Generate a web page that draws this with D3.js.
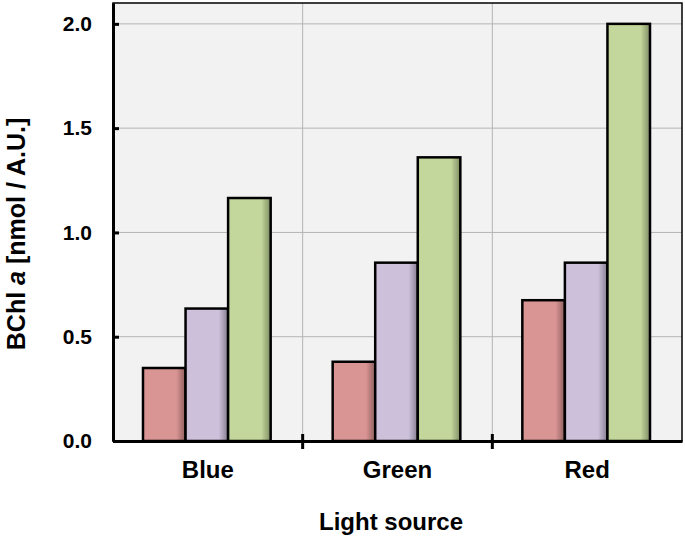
<!DOCTYPE html>
<html>
<head>
<meta charset="utf-8">
<script src="https://cdn.jsdelivr.net/npm/d3@7"></script>
<style>
body { margin: 0; background: #fff; }
text { font-family: Arial, "Liberation Sans", sans-serif; font-weight: bold; }
</style>
</head>
<body>
<div id="chart"></div>
<script>
var svgWidth = 685;
var svgHeight = 540;

var margin = { top: 3, right: 3, bottom: 99, left: 113 };
var chartWidth = svgWidth - margin.left - margin.right;
var chartHeight = svgHeight - margin.top - margin.bottom;

// data
var categories = ["Blue", "Green", "Red"];
var seriesNames = ["s1", "s2", "s3"];
var series1 = [0.35, 0.38, 0.675];
var series2 = [0.635, 0.855, 0.855];
var series3 = [1.165, 1.36, 2.0];
var yTicks = [0.0, 0.5, 1.0, 1.5, 2.0];
var colors = ["#d99594", "#ccc0da", "#c3d69b"];
var darks = ["#8f5f5e", "#857d90", "#7f8c63"];

var allSeries = [series1, series2, series3];

var svg = d3.select("#chart")
    .append("svg")
    .attr("width", svgWidth)
    .attr("height", svgHeight);

var defs = svg.append("defs");
colors.forEach(function(c, i) {
    var g = defs.append("linearGradient")
        .attr("id", "grad" + i)
        .attr("x1", "0").attr("x2", "1").attr("y1", "0").attr("y2", "0");
    g.append("stop").attr("offset", "0").attr("stop-color", c);
    g.append("stop").attr("offset", "0.78").attr("stop-color", c);
    g.append("stop").attr("offset", "1").attr("stop-color", darks[i]);
});

var chartGroup = svg.append("g")
    .attr("transform", `translate(${margin.left}, ${margin.top})`);

var xScale = d3.scaleBand()
    .domain(categories)
    .range([0, chartWidth])
    .paddingInner(0)
    .paddingOuter(0);

var xInner = d3.scaleBand()
    .domain(seriesNames)
    .range([30, xScale.bandwidth() - 32]);

var yScale = d3.scaleLinear()
    .domain([0, 2.1])
    .range([chartHeight, 0]);

// plot background
chartGroup.append("rect")
    .attr("x", 0).attr("y", 0)
    .attr("width", chartWidth).attr("height", chartHeight)
    .attr("fill", "#f2f2f2");

// horizontal grid
chartGroup.selectAll(".hgrid")
    .data(yTicks.slice(1))
    .enter()
    .append("line")
    .attr("x1", 0).attr("x2", chartWidth)
    .attr("y1", d => yScale(d)).attr("y2", d => yScale(d))
    .attr("stroke", "#b4b4b4")
    .attr("stroke-width", 1);

// vertical grid between categories
chartGroup.selectAll(".vgrid")
    .data(categories.slice(1))
    .enter()
    .append("line")
    .attr("x1", d => xScale(d)).attr("x2", d => xScale(d))
    .attr("y1", 0).attr("y2", chartHeight)
    .attr("stroke", "#b4b4b4")
    .attr("stroke-width", 1);

// frame top/right
chartGroup.append("rect")
    .attr("x", 0).attr("y", 0)
    .attr("width", chartWidth).attr("height", chartHeight)
    .attr("fill", "none")
    .attr("stroke", "#000")
    .attr("stroke-width", 1.5);

// bars
var groups = chartGroup.selectAll(".grp")
    .data(categories)
    .enter()
    .append("g")
    .attr("transform", d => `translate(${xScale(d)}, 0)`);

groups.selectAll("rect")
    .data((d, ci) => seriesNames.map((s, si) => ({ s: s, si: si, v: allSeries[si][ci] })))
    .enter()
    .append("rect")
    .attr("x", d => xInner(d.s))
    .attr("width", xInner.bandwidth())
    .attr("y", d => yScale(d.v))
    .attr("height", d => chartHeight - yScale(d.v))
    .attr("fill", d => `url(#grad${d.si})`)
    .attr("stroke", "#000")
    .attr("stroke-width", 2.5);

// axes
var leftAxis = d3.axisLeft(yScale)
    .tickValues(yTicks)
    .tickFormat(d3.format(".1f"))
    .tickSizeInner(-6)
    .tickSizeOuter(0)
    .tickPadding(21);

var yAxis = chartGroup.append("g").call(leftAxis);
yAxis.select(".domain").attr("stroke-width", 3).attr("stroke", "#000");
yAxis.selectAll(".tick line").attr("stroke-width", 3);
yAxis.selectAll("text")
    .attr("font-size", "21px")
    .attr("fill", "#000")
    .style("font-family", "Arial, 'Liberation Sans', sans-serif")
    .style("font-weight", "bold");

var bottomAxis = d3.axisBottom(xScale)
    .tickSize(0)
    .tickPadding(20);
var xAxis = chartGroup.append("g")
    .attr("transform", `translate(0, ${chartHeight})`)
    .call(bottomAxis);
xAxis.select(".domain").attr("stroke-width", 3).attr("stroke", "#000");
xAxis.selectAll("text")
    .attr("font-size", "24px")
    .attr("fill", "#000")
    .style("font-family", "Arial, 'Liberation Sans', sans-serif")
    .style("font-weight", "bold");

// category boundary ticks crossing axis
chartGroup.selectAll(".xtick")
    .data(categories.slice(1))
    .enter()
    .append("line")
    .attr("x1", d => xScale(d)).attr("x2", d => xScale(d))
    .attr("y1", chartHeight - 7).attr("y2", chartHeight + 8)
    .attr("stroke", "#000")
    .attr("stroke-width", 3);

// axis titles
svg.append("text")
    .attr("x", 391)
    .attr("y", 530)
    .attr("text-anchor", "middle")
    .attr("font-size", "24px")
    .text("Light source");

var yTitle = svg.append("text")
    .attr("transform", "translate(25, 234) rotate(-90)")
    .attr("text-anchor", "middle")
    .attr("font-size", "25px");
yTitle.append("tspan").text("BChl ");
yTitle.append("tspan").attr("font-style", "italic").text("a");
yTitle.append("tspan").text(" [nmol / A.U.]");
</script>
</body>
</html>
